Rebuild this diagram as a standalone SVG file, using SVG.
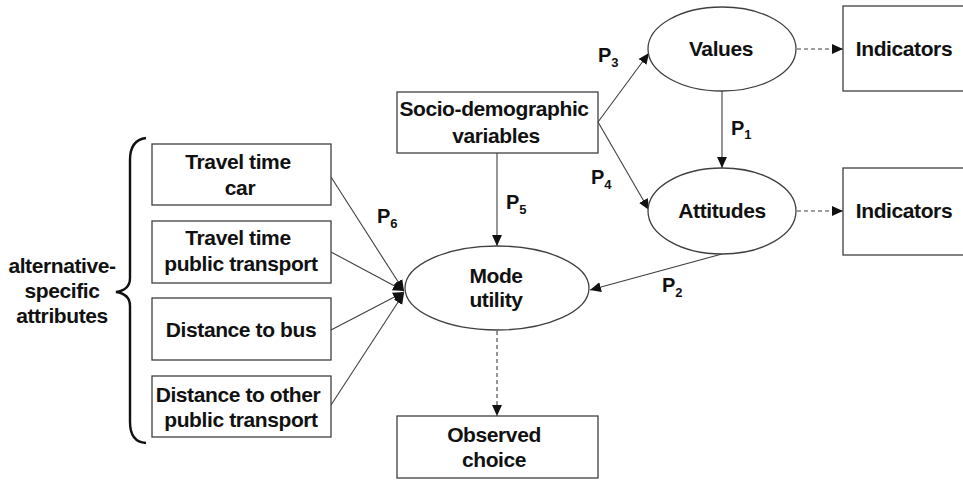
<svg xmlns="http://www.w3.org/2000/svg" width="963" height="480" viewBox="0 0 963 480">
  <style>
    .box { fill: #fff; stroke: #404040; stroke-width: 1.3; }
    .oval { fill: #fff; stroke: #404040; stroke-width: 1.3; }
    .lbl { font-family: "Liberation Sans", Arial, sans-serif; font-weight: bold; font-size: 21px; letter-spacing: -0.4px; fill: #111; text-anchor: middle; }
    .p { font-family: "Liberation Sans", Arial, sans-serif; font-weight: bold; font-size: 20px; fill: #111; }
    .sub { font-size: 13px; }
    .edge { stroke: #404040; stroke-width: 1.1; fill: none; marker-end: url(#arrow); }
    .dash { stroke-dasharray: 4 3; }
    .brace { stroke: #111; stroke-width: 2.4; fill: none; }
  </style>
  <defs>
    <marker id="arrow" viewBox="0 0 10 10" refX="10" refY="5" markerWidth="11" markerHeight="11" markerUnits="userSpaceOnUse" orient="auto">
      <path d="M0,0.5 L10,5 L0,9.5 Z" fill="#111"/>
    </marker>
  </defs>

  <!-- connectors -->
  <g id="connectors">
    <line class="edge" x1="331" y1="177" x2="404" y2="291"/>
    <line class="edge" x1="331" y1="252" x2="404" y2="291"/>
    <line class="edge" x1="331" y1="330" x2="404" y2="292"/>
    <line class="edge" x1="331" y1="405" x2="404" y2="293"/>
    <line class="edge" x1="497" y1="153" x2="497" y2="246"/>
    <line class="edge" x1="598" y1="122" x2="649" y2="53"/>
    <line class="edge" x1="598" y1="122" x2="649" y2="210"/>
    <line class="edge" x1="722" y1="91" x2="722" y2="168"/>
    <line class="edge" x1="722" y1="254" x2="590" y2="290"/>
    <line class="edge dash" x1="797" y1="49" x2="843" y2="49"/>
    <line class="edge dash" x1="797" y1="211" x2="843" y2="211"/>
    <line class="edge dash" x1="497" y1="331" x2="497" y2="416"/>
  </g>

  <!-- path labels -->
  <g id="path-labels">
    <text class="p" x="731" y="135">P<tspan class="sub" dy="4">1</tspan></text>
    <text class="p" x="662" y="292">P<tspan class="sub" dy="5">2</tspan></text>
    <text class="p" x="598" y="62">P<tspan class="sub" dy="5">3</tspan></text>
    <text class="p" x="591" y="184">P<tspan class="sub" dy="5">4</tspan></text>
    <text class="p" x="506" y="209">P<tspan class="sub" dy="5">5</tspan></text>
    <text class="p" x="377" y="223">P<tspan class="sub" dy="5">6</tspan></text>
  </g>

  <!-- grouping brace and its caption -->
  <g id="attributes-group">
    <path class="brace" d="M146,138 Q130,140 130,160 L130,278 Q130,290 116,292 Q130,294 130,306 L130,422 Q130,442 146,443"/>
    <text class="lbl" x="62" y="273">alternative-</text>
    <text class="lbl" x="62" y="298">specific</text>
    <text class="lbl" x="62" y="323">attributes</text>
  </g>

  <g id="travel-time-car">
    <rect class="box" x="152" y="144" width="179" height="61"/>
    <text class="lbl" x="238" y="169">Travel time</text>
    <text class="lbl" x="240" y="195">car</text>
  </g>
  <g id="travel-time-pt">
    <rect class="box" x="152" y="221" width="179" height="62"/>
    <text class="lbl" x="238" y="245">Travel time</text>
    <text class="lbl" x="241" y="271">public transport</text>
  </g>
  <g id="distance-bus">
    <rect class="box" x="152" y="298" width="179" height="62"/>
    <text class="lbl" x="241" y="337">Distance to bus</text>
  </g>
  <g id="distance-other">
    <rect class="box" x="152" y="376" width="179" height="61"/>
    <text class="lbl" x="238" y="402">Distance to other</text>
    <text class="lbl" x="241" y="427">public transport</text>
  </g>

  <g id="socio">
    <rect class="box" x="397" y="92" width="201" height="61"/>
    <text class="lbl" x="494" y="116">Socio-demographic</text>
    <text class="lbl" x="496" y="143">variables</text>
  </g>

  <g id="mode-utility">
    <ellipse class="oval" cx="497" cy="288" rx="92" ry="42"/>
    <text class="lbl" x="496" y="283">Mode</text>
    <text class="lbl" x="496" y="307">utility</text>
  </g>

  <g id="observed-choice">
    <rect class="box" x="397" y="416" width="201" height="62"/>
    <text class="lbl" x="494" y="442">Observed</text>
    <text class="lbl" x="494" y="467">choice</text>
  </g>

  <g id="values">
    <ellipse class="oval" cx="722" cy="49" rx="74" ry="42"/>
    <text class="lbl" x="721" y="56">Values</text>
  </g>
  <g id="attitudes">
    <ellipse class="oval" cx="722" cy="211" rx="74" ry="43"/>
    <text class="lbl" x="722" y="218">Attitudes</text>
  </g>

  <g id="indicators-values">
    <rect class="box" x="843" y="6" width="130" height="85"/>
    <text class="lbl" x="904" y="56">Indicators</text>
  </g>
  <g id="indicators-attitudes">
    <rect class="box" x="843" y="168" width="130" height="87"/>
    <text class="lbl" x="904" y="218">Indicators</text>
  </g>
</svg>
